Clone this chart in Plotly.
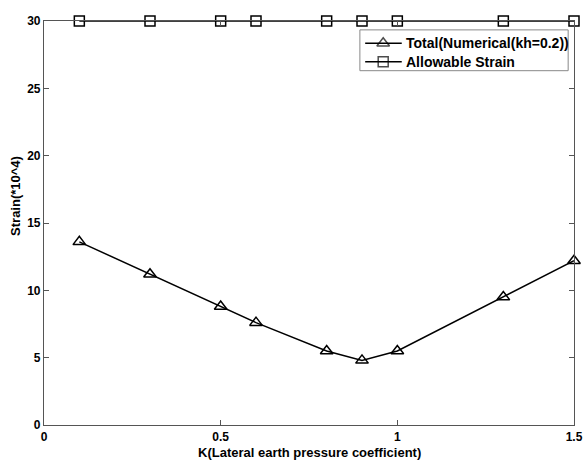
import plotly.graph_objects as go

k_values = [0.1, 0.3, 0.5, 0.6, 0.8, 0.9, 1.0, 1.3, 1.5]
total_strain = [13.6, 11.2, 8.8, 7.6, 5.5, 4.8, 5.5, 9.5, 12.2]
allowable_strain = [30, 30, 30, 30, 30, 30, 30, 30, 30]

series_names = ["Total(Numerical(kh=0.2))", "Allowable Strain"]
series_symbols = ["triangle-up-open", "square-open"]

x_ticks = [0, 0.5, 1, 1.5]
x_tick_labels = ["0", "0.5", "1", "1.5"]
y_ticks = [0, 5, 10, 15, 20, 25, 30]

FONT = "Arial, Liberation Sans, sans-serif"

fig = go.Figure()
fig.add_trace(go.Scatter(
    x=k_values, y=total_strain, mode="lines+markers",
    name=series_names[0], showlegend=False,
    line=dict(color="black", width=1.5),
    marker=dict(symbol=series_symbols[0], size=11, color="black", line=dict(width=1.5)),
    cliponaxis=False,
))
fig.add_trace(go.Scatter(
    x=k_values, y=allowable_strain, mode="lines+markers",
    name=series_names[1], showlegend=False,
    line=dict(color="black", width=1.5),
    marker=dict(symbol=series_symbols[1], size=10, color="black", line=dict(width=1.5)),
    cliponaxis=False,
))

# Compact MATLAB-style legend drawn in paper coordinates
lx0, lx1 = 0.596, 0.989
ly0, ly1 = 0.877, 0.978
row_y = [0.945, 0.899]
fig.add_shape(type="rect", xref="paper", yref="paper",
              x0=lx0, x1=lx1, y0=ly0, y1=ly1,
              line=dict(color="#888888", width=1), fillcolor="white", layer="below")
for ry, name in zip(row_y, series_names):
    fig.add_shape(type="line", xref="paper", yref="paper",
                  x0=0.606, x1=0.675, y0=ry, y1=ry,
                  line=dict(color="black", width=1.5), layer="above")
    fig.add_annotation(text="<b>" + name + "</b>", xref="paper", yref="paper",
                       x=0.679, y=ry, xanchor="left", yanchor="middle",
                       showarrow=False, font=dict(family=FONT, size=14, color="black"))
fig.add_trace(go.Scatter(
    x=[0.640, 0.640], y=row_y, xaxis="x2", yaxis="y2", mode="markers",
    showlegend=False, hoverinfo="skip", cliponaxis=False,
    marker=dict(symbol=series_symbols, size=[11, 10], color="black", line=dict(width=1.5)),
))

tick_font = dict(family=FONT, size=12, color="black", weight="bold")

fig.update_layout(
    width=586, height=461,
    margin=dict(l=44, r=12, t=21, b=36, autoexpand=False),
    plot_bgcolor="white", paper_bgcolor="white",
    font=dict(family=FONT, size=12, color="black"),
    showlegend=False,
    xaxis=dict(
        range=[0, 1.5], tickvals=x_ticks, ticktext=x_tick_labels,
        showgrid=False, zeroline=False, automargin=False,
        showline=True, linecolor="#555555", linewidth=1.2, mirror="ticks",
        ticks="inside", ticklen=5, tickcolor="#555555",
        tickfont=tick_font,
    ),
    yaxis=dict(
        range=[0, 30], tickvals=y_ticks,
        showgrid=False, zeroline=False, automargin=False,
        showline=True, linecolor="#555555", linewidth=1.2, mirror="ticks",
        ticks="inside", ticklen=5, tickcolor="#555555",
        tickfont=tick_font,
    ),
    xaxis2=dict(overlaying="x", range=[0, 1], visible=False, domain=[0, 1]),
    yaxis2=dict(overlaying="y", range=[0, 1], visible=False, domain=[0, 1]),
)

fig.add_annotation(
    text="<b>K(Lateral earth pressure coefficient)</b>",
    xref="paper", yref="paper", x=0.5, y=0, yshift=-27,
    showarrow=False, yanchor="middle",
    font=dict(family=FONT, size=13, color="black"),
)
fig.add_annotation(
    text="<b>Strain(*10^4)</b>",
    xref="paper", yref="paper", x=0, y=0.567, xshift=-28,
    showarrow=False, textangle=-90, xanchor="center",
    font=dict(family=FONT, size=13, color="black"),
)

fig.write_html("out.html")
